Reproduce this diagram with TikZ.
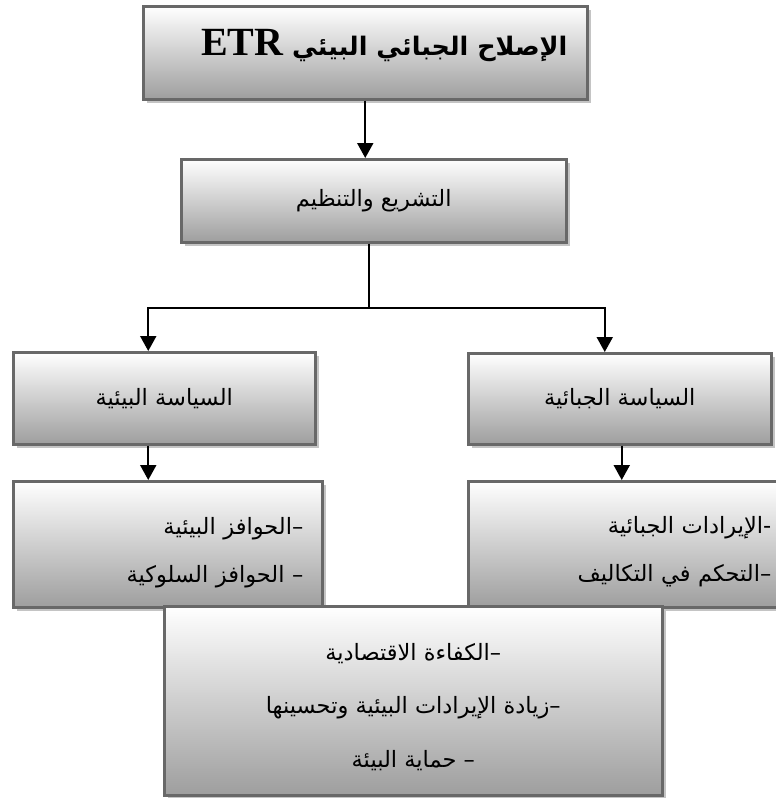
\documentclass[tikz,border=0pt]{standalone}
\usepackage{fontspec}
\usetikzlibrary{arrows.meta,shadows}
\TeXXeTstate=1
\newfontfamily\arabicfont[Script=Arabic]{DejaVu Sans}
\newfontfamily\latinserif{Liberation Serif}
\definecolor{edgegray}{HTML}{686868}
\definecolor{fillgray}{HTML}{9E9E9E}
\definecolor{shadowgray}{HTML}{C4C4C4}
\tikzset{
  panel/.style={draw=edgegray, line width=2.5pt, top color=white, bottom color=fillgray,
    general shadow={fill=shadowgray, shadow xshift=4pt, shadow yshift=-4pt},
    anchor=north west, inner sep=0pt,
    font=\arabicfont\fontsize{22.5}{48.5}\selectfont},
  arr/.style={line width=2pt, -{Triangle[width=16pt,length=15pt]}},
  link/.style={line width=2pt}
}
% invisible strut that pushes a stack of lines downwards
\newcommand{\lowerstrut}[1]{\rule{0pt}{#1}}
\begin{document}
\begin{tikzpicture}[x=1pt,y=-1pt]
\useasboundingbox (0,0) rectangle (776,798);
\clip (0,0) rectangle (776,798);

% top level: the reform itself
\node[panel, minimum width=444pt, minimum height=93pt, text height=6pt, text depth=0pt] (title) at (142,5)
  {\hspace*{38pt}\bfseries\fontsize{25.5}{30}\selectfont\beginR الإصلاح الجبائي البيئي \beginL{\latinserif\fontsize{40}{40}\selectfont ETR}\endL\endR};

% legislation and regulation
\node[panel, minimum width=385pt, minimum height=83pt] (law) at (180,158)
  {\beginR التشريع والتنظيم\endR};

% the two policies
\node[panel, minimum width=302pt, minimum height=92pt] (envpol) at (12,351)
  {\beginR السياسة البيئية\endR};
\node[panel, minimum width=303pt, minimum height=91pt] (taxpol) at (467,352)
  {\beginR السياسة الجبائية\endR};

% their instruments
\node[panel, minimum width=309pt, minimum height=126pt, inner xsep=19pt,
      text width=271pt, align=right] (envtools) at (12,480)
  {\lowerstrut{34pt}\beginR–الحوافز البيئية\endR\\\beginR– الحوافز السلوكية\endR};
\node[panel, minimum width=325pt, minimum height=126pt, inner xsep=22pt,
      text width=281pt, align=right] (taxtools) at (467,480)
  {\lowerstrut{32pt}\beginR-الإيرادات الجبائية\endR\\\beginR–التحكم في التكاليف\endR};

% expected outcomes
\node[panel, minimum width=498pt, minimum height=189pt, align=center,
      font=\arabicfont\fontsize{22.5}{53.5}\selectfont] (goals) at (163,605)
  {\lowerstrut{29pt}\beginR–الكفاءة الاقتصادية\endR\\\beginR–زيادة الإيرادات البيئية وتحسينها\endR\\\beginR– حماية البيئة\endR};

% connectors
\draw[arr] (title.south) -- (title.south |- law.north);
\draw[link] ([xshift=-5pt]law.south) -- ++(0,64) coordinate (fork);
\draw[arr] (fork) -| ([xshift=-16pt]envpol.north);
\draw[arr] (fork) -| ([xshift=-15pt]taxpol.north);
\draw[arr] ([xshift=-16pt]envpol.south) -- ([xshift=-16pt]envpol.south |- envtools.north);
\draw[arr] ([xshift=2pt]taxpol.south) -- ([xshift=2pt]taxpol.south |- taxtools.north);
\end{tikzpicture}
\end{document}
